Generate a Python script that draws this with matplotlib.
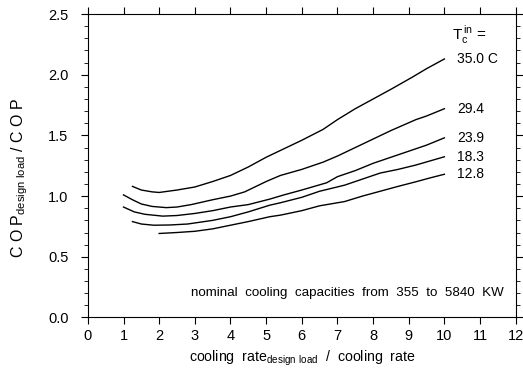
import numpy as np
import matplotlib
matplotlib.use("Agg")
import matplotlib.pyplot as plt
from matplotlib.ticker import MultipleLocator

plt.rcParams['font.family'] = ['Liberation Sans', 'DejaVu Sans']
plt.rcParams['mathtext.fontset'] = 'custom'
plt.rcParams['mathtext.rm'] = 'Liberation Sans'

# curves, one per condenser inlet temperature
x_35 = [1.25, 1.5, 1.8, 2.0, 2.5, 3.0, 3.5, 4.0, 4.5, 5.0, 5.5, 6.0, 6.6, 7.0, 7.5, 8.0, 8.5, 9.1, 9.5, 10.0]
y_35 = [1.08, 1.05, 1.035, 1.03, 1.05, 1.075, 1.12, 1.17, 1.24, 1.32, 1.39, 1.46, 1.55, 1.63, 1.72, 1.80, 1.88, 1.98, 2.05, 2.13]

x_294 = [1.0, 1.25, 1.5, 1.8, 2.2, 2.5, 2.9, 3.5, 4.0, 4.4, 5.0, 5.4, 6.0, 6.6, 7.0, 7.5, 8.0, 8.5, 9.2, 9.5, 10.0]
y_294 = [1.01, 0.97, 0.935, 0.915, 0.905, 0.91, 0.93, 0.97, 1.0, 1.035, 1.12, 1.17, 1.22, 1.28, 1.33, 1.40, 1.47, 1.54, 1.63, 1.66, 1.72]

x_239 = [1.0, 1.3, 1.6, 2.1, 2.5, 3.0, 3.5, 4.0, 4.5, 5.1, 5.5, 6.0, 6.7, 7.0, 7.5, 8.0, 8.5, 9.0, 9.5, 10.0]
y_239 = [0.91, 0.87, 0.85, 0.835, 0.84, 0.857, 0.88, 0.91, 0.93, 0.975, 1.01, 1.05, 1.11, 1.16, 1.21, 1.27, 1.32, 1.37, 1.42, 1.48]

x_183 = [1.25, 1.5, 1.85, 2.3, 2.8, 3.5, 4.0, 4.5, 5.1, 5.4, 6.0, 6.5, 7.2, 7.7, 8.2, 8.7, 9.2, 9.6, 10.0]
y_183 = [0.79, 0.77, 0.76, 0.762, 0.77, 0.80, 0.83, 0.87, 0.925, 0.945, 0.99, 1.04, 1.09, 1.14, 1.19, 1.22, 1.256, 1.29, 1.324]

x_128 = [2.0, 2.5, 3.0, 3.5, 4.0, 4.5, 5.1, 5.4, 6.0, 6.5, 7.2, 7.7, 8.2, 8.7, 9.2, 9.6, 10.0]
y_128 = [0.692, 0.70, 0.71, 0.73, 0.76, 0.79, 0.83, 0.843, 0.88, 0.92, 0.955, 1.0, 1.04, 1.08, 1.118, 1.15, 1.18]

curves = [(x_35, y_35, '35.0 C'), (x_294, y_294, '29.4'), (x_239, y_239, '23.9'),
          (x_183, y_183, '18.3'), (x_128, y_128, '12.8')]

fig = plt.figure(figsize=(5.23, 3.70), dpi=100)
ax = fig.add_axes([0.168, 0.142, 0.818, 0.82])

for xs, ys, lab in curves:
    ax.plot(xs, ys, color='black', lw=1.0)
    ax.text(xs[-1] + 0.35, ys[-1], lab, fontsize=10, va='center', ha='left')

ax.text(10.2, 2.32, r'T$_{\mathregular{c}}^{\mathregular{\,in}}$ =', fontsize=11, ha='left', va='center')
ax.text(2.9, 0.2, 'nominal  cooling  capacities  from  355  to  5840  KW', fontsize=9.6,
        ha='left', va='center')

ax.set_xlim(0, 12)
ax.set_ylim(0, 2.5)
ax.xaxis.set_major_locator(MultipleLocator(1))
ax.yaxis.set_major_locator(MultipleLocator(0.5))
ax.yaxis.set_minor_locator(MultipleLocator(0.1))
ax.yaxis.set_major_formatter(plt.FormatStrFormatter('%.1f'))
ax.tick_params(which='both', top=True, right=True, labelsize=10.5, direction='out')
ax.tick_params(which='major', length=5)
ax.tick_params(which='minor', length=3)
ax.tick_params(axis='y', which='major', pad=9)

ax.set_xlabel(r'cooling  rate$_{\mathregular{design\ load}}$  /  cooling  rate', fontsize=10.2, labelpad=4)
ax.set_ylabel(r'C O P$_{\mathregular{design\ load}}$ / C O P', fontsize=11.5)
ax.yaxis.set_label_coords(-0.135, 0.46)

fig.savefig('out.png', dpi=100)
